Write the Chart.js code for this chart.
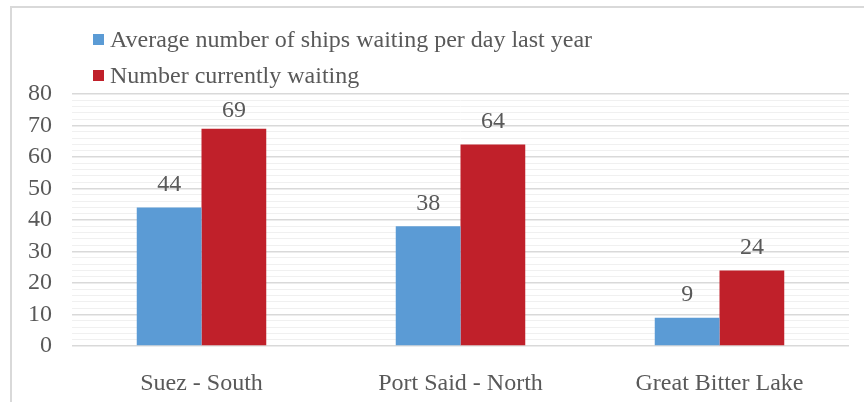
<!DOCTYPE html>
<html>
<head>
<meta charset="utf-8">
<script src="https://cdn.jsdelivr.net/npm/chart.js@4/dist/chart.umd.min.js"></script>
<style>
  body { margin: 0; background: #fff; }
</style>
</head>
<body>
<canvas id="myChart" width="864" height="402"></canvas>
<script>
const categories = ["Suez - South", "Port Said - North", "Great Bitter Lake"];
const seriesNames = ["Average number of ships waiting per day last year", "Number currently waiting"];
const avgLastYear = [44, 38, 9];
const currentlyWaiting = [69, 64, 24];
const yTicks = [0, 10, 20, 30, 40, 50, 60, 70, 80];

const FONT = "'Liberation Serif', 'Times New Roman', serif";
const TEXT = "#595959";
const colors = ["#5b9bd5", "#c0202a"];

// outer frame
const framePlugin = {
  id: "frame",
  beforeDraw(chart) {
    const c = chart.ctx;
    c.save();
    c.strokeStyle = "#d9d9d9";
    c.lineWidth = 2;
    c.strokeRect(11, 7, 870, 420);
    c.restore();
  },
};

// stacked legend at top left
const legendPlugin = {
  id: "stackLegend",
  afterDraw(chart) {
    const c = chart.ctx;
    c.save();
    c.font = "24px " + FONT;
    c.textBaseline = "middle";
    chart.data.datasets.forEach((ds, i) => {
      const y = 40 + i * 36;
      c.fillStyle = ds.backgroundColor;
      c.fillRect(93, y - 6, 11, 11);
      c.fillStyle = TEXT;
      c.fillText(ds.label, 110, y + 1);
    });
    c.restore();
  },
};

// values above bars
const valuePlugin = {
  id: "values",
  afterDatasetsDraw(chart) {
    const c = chart.ctx;
    const top = chart.chartArea.top + 17;
    c.save();
    c.font = "24px " + FONT;
    c.fillStyle = TEXT;
    c.textAlign = "center";
    c.textBaseline = "middle";
    chart.data.datasets.forEach((ds, i) => {
      chart.getDatasetMeta(i).data.forEach((bar, j) => {
        c.fillText(ds.data[j], bar.x, Math.max(bar.y - 23, top));
      });
    });
    c.restore();
  },
};

new Chart(document.getElementById("myChart"), {
  type: "bar",
  data: {
    labels: categories,
    datasets: [
      { label: seriesNames[0], data: avgLastYear, backgroundColor: colors[0] },
      { label: seriesNames[1], data: currentlyWaiting, backgroundColor: colors[1] },
    ],
  },
  options: {
    responsive: false,
    animation: false,
    layout: { padding: { left: 0, right: 15, top: 94, bottom: 0 } },
    plugins: {
      legend: { display: false },
      tooltip: { enabled: false },
    },
    datasets: {
      bar: { categoryPercentage: 0.5, barPercentage: 1 },
    },
    scales: {
      x: {
        grid: { display: false },
        border: { display: false },
        ticks: { color: TEXT, font: { family: FONT, size: 24 }, padding: 15 },
        afterFit(scale) { scale.height = 56; },
      },
      y: {
        min: 0,
        max: 80,
        border: { display: false },
        grid: {
          drawTicks: false,
          color: (ctx) => (ctx.tick && ctx.tick.value % 10 === 0 ? "#d9d9d9" : "#f0f0f0"),
          lineWidth: (ctx) => (ctx.tick && ctx.tick.value % 10 === 0 ? 1.5 : 1),
        },
        ticks: {
          stepSize: 2,
          autoSkip: false,
          padding: 20,
          color: TEXT,
          font: { family: FONT, size: 24 },
          callback: (v) => (yTicks.includes(v) ? v : ""),
        },
        afterFit(scale) { scale.width = 72; },
      },
    },
  },
  plugins: [framePlugin, legendPlugin, valuePlugin],
});
</script>
</body>
</html>
